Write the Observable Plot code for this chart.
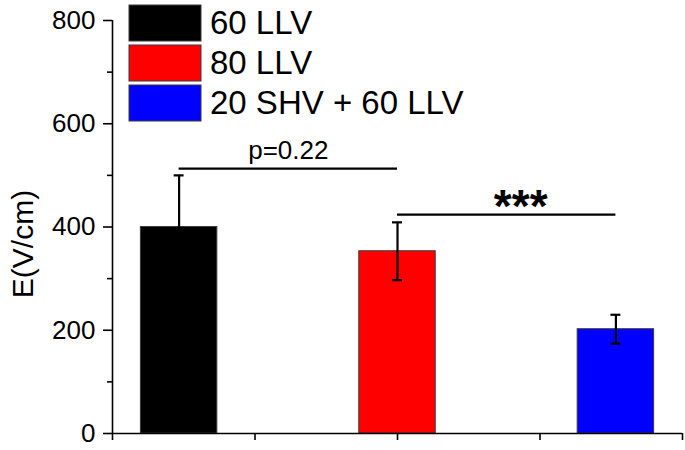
<!DOCTYPE html>
<html>
<head>
<meta charset="utf-8">
<script src="https://cdn.jsdelivr.net/npm/d3@7"></script>
<script src="https://cdn.jsdelivr.net/npm/@observablehq/plot@0.6"></script>
<style>
  html, body { margin: 0; padding: 0; background: #fff; }
  svg { display: block; }
</style>
</head>
<body>
<div id="chart"></div>
<script>
// ---- data ----
const categories = ["60 LLV", "80 LLV", "20 SHV + 60 LLV"];
const means = [400, 353, 202];
const errors = [100, 56, 28];
const colors = ["#000000", "#ff0000", "#0000ff"];
const yMajorTicks = [0, 200, 400, 600, 800];
const yMinorTicks = [100, 300, 500, 700];
const xTicks = [0, 1, 2, 3, 4];
const sigFrom = [0, 1];
const sigTo = [1, 2];
const sigLevels = [513, 424];
const sigLabels = ["p=0.22", "***"];
const yLabel = "E(V/cm)";

// ---- tables built from the arrays ----
const band = d3.scaleBand().domain(categories).range([0, 4]).paddingInner(0.65).paddingOuter(0.13);
const center = c => band(c) + band.bandwidth() / 2;
const bars = categories.map((c, i) => ({cat: c, mean: means[i], err: errors[i], color: colors[i]}));
const sig = sigLabels.map((t, i) => ({
  label: t, y: sigLevels[i],
  x1: center(categories[sigFrom[i]]), x2: center(categories[sigTo[i]])
}));

const font = "'Liberation Sans', Arial, sans-serif";

const chart = Plot.plot({
  width: 685,
  height: 450,
  marginLeft: 112,
  marginRight: 3,
  marginTop: 20,
  marginBottom: 17,
  style: {fontFamily: font, background: "#fff", color: "#000", overflow: "visible"},
  x: {domain: [0, 4], axis: null},
  y: {domain: [0, 800], axis: null},
  marks: [
    Plot.rectY(bars, {
      x1: d => band(d.cat), x2: d => band(d.cat) + band.bandwidth(),
      y1: 0, y2: "mean", fill: "color", stroke: "#3a3a3a", strokeWidth: 1
    }),
    Plot.ruleX(bars, {x: d => center(d.cat), y1: d => d.mean - d.err, y2: d => d.mean + d.err, stroke: "#000", strokeWidth: 2.2}),
    Plot.ruleY(bars, {y: d => d.mean + d.err, x1: d => center(d.cat), x2: d => center(d.cat), insetLeft: -5, insetRight: -5, stroke: "#000", strokeWidth: 2.2}),
    Plot.ruleY(bars, {y: d => d.mean - d.err, x1: d => center(d.cat), x2: d => center(d.cat), insetLeft: -5, insetRight: -5, stroke: "#000", strokeWidth: 2.2}),
    Plot.ruleY(sig, {y: "y", x1: "x1", x2: "x2", stroke: "#000", strokeWidth: 2.2}),
    Plot.text(sig.slice(0, 1), {x: d => (d.x1 + d.x2) / 2, y: "y", text: "label", lineAnchor: "bottom", dy: -10, fontSize: 26, fill: "#000"}),
    Plot.text(sig.slice(1), {x: d => (d.x1 + d.x2) / 2, y: "y", text: "label", lineAnchor: "bottom", dx: 14, dy: 7, fontSize: 46, fontWeight: "bold", fill: "#000"}),
    // axis lines
    Plot.ruleX([0], {stroke: "#000", strokeWidth: 1.6}),
    Plot.ruleY([0], {stroke: "#000", strokeWidth: 1.6}),
    // y axis ticks and labels
    Plot.axisY({ticks: yMajorTicks, tickSize: 9, tickPadding: 8, fontSize: 26, stroke: "#000", fill: "#000", strokeWidth: 1.6, tickFormat: d => String(d), label: null}),
    Plot.axisY({ticks: yMinorTicks, tickSize: 5, stroke: "#000", strokeWidth: 1.6, tickFormat: () => "", label: null}),
    // x axis ticks (unlabelled)
    Plot.axisX({ticks: xTicks, tickSize: 7, stroke: "#000", strokeWidth: 1.6, tickFormat: () => "", label: null})
  ]
});

document.getElementById("chart").appendChild(chart);

// ---- y-axis title and legend in the SVG ----
const svg = d3.select(chart);
svg.append("text")
  .attr("transform", "translate(33,244) rotate(-90)")
  .attr("text-anchor", "middle")
  .attr("font-family", font)
  .attr("font-size", 30)
  .attr("fill", "#000")
  .text(yLabel);

const legend = svg.append("g").attr("transform", "translate(129,5)");
categories.forEach((c, i) => {
  const g = legend.append("g").attr("transform", `translate(0,${i * 40})`);
  g.append("rect").attr("width", 72).attr("height", 36)
    .attr("fill", colors[i]).attr("stroke", "#3a3a3a").attr("stroke-width", 1);
  g.append("text").attr("x", 81).attr("y", 29)
    .attr("text-anchor", "start")
    .attr("font-family", font).attr("font-size", 33).attr("fill", "#000")
    .text(c);
});
</script>
</body>
</html>
